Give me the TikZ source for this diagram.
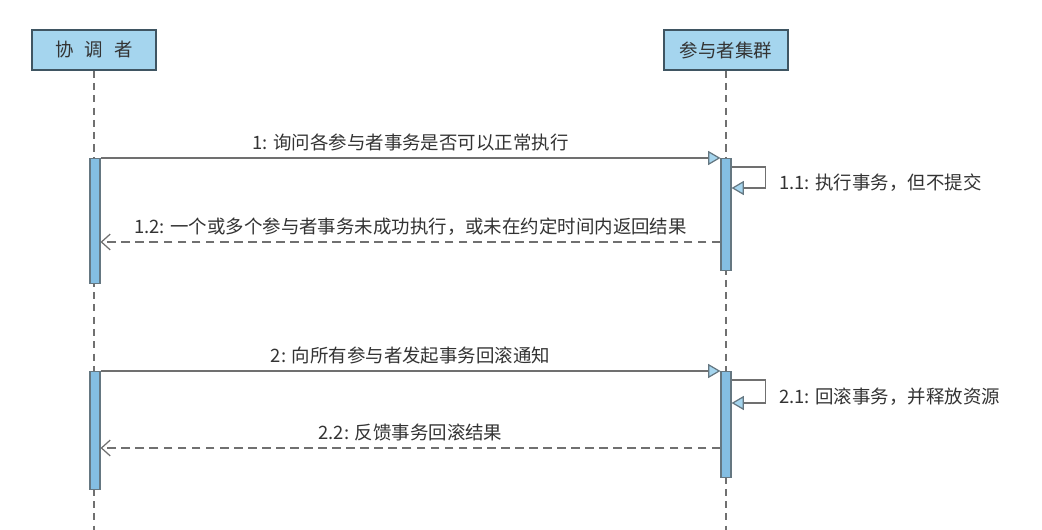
\documentclass[tikz,border=0pt]{standalone}
\usepackage{fontspec}
\usepackage{xcolor}
\usepackage{tikz}
\usetikzlibrary{arrows.meta}
\newfontfamily\cjk{Noto Sans CJK SC}
\definecolor{boxblue}{HTML}{A5D5EE}
\definecolor{barblue}{HTML}{84BEE2}
\definecolor{edgegray}{HTML}{3F5562}
\definecolor{linegray}{HTML}{707070}

\begin{document}
\begin{tikzpicture}[x=0.02cm, y=-0.02cm,
  every node/.style={font=\cjk\fontsize{10.5}{12}\selectfont, text=black!80},
  actor/.style={rectangle, draw=edgegray, fill=boxblue, line width=0.8pt, minimum width=2.48cm, minimum height=0.8cm},
  bar/.style={rectangle, draw=edgegray!80, fill=barblue, line width=0.6pt, minimum width=0.2cm, inner sep=0pt, anchor=north},
  lifeline/.style={draw=linegray, dash pattern=on 4pt off 3pt, line width=0.6pt},
  msg/.style={draw=linegray, line width=0.7pt, -{Triangle[length=7pt, width=8pt, color=edgegray!80, fill=boxblue]}},
  reply/.style={draw=linegray, line width=0.7pt, dash pattern=on 5pt off 3pt, -{Straight Barb[length=5pt, width=9pt]}}]
  \useasboundingbox (0,0) rectangle (1042,530);

  % Lifelines
  \node[actor] (coord) at (94,50) {协\hspace{0.6em}调\hspace{0.6em}者};
  \node[actor] (part) at (726,50) {参与者集群};
  \coordinate (coordEnd) at (94,530);
  \coordinate (partEnd) at (726,530);
  \draw[lifeline] (coord) -- (coordEnd);
  \draw[lifeline] (part) -- (partEnd);

  % Activation bars
  \node[bar, minimum height=2.5cm] (cA1) at (95,158) {};
  \node[bar, minimum height=2.24cm] (pA1) at (726,158) {};
  \node[bar, minimum height=2.36cm] (cA2) at (95,371) {};
  \node[bar, minimum height=2.12cm] (pA2) at (726,371) {};

  % Phase 1
  \draw[msg] (cA1.north east) -- (pA1.north west)
    node[midway, above] {1: 询问各参与者事务是否可以正常执行};
  \draw[msg] (pA1.east |- 0,167) -- ++(34,0) |- (pA1.east |- 0,188);
  \node[anchor=west] (l11) at (773,183) {1.1: 执行事务，但不提交};
  \draw[reply] (pA1.west |- 0,242) -- (cA1.east |- 0,242)
    node[midway, above] {1.2: 一个或多个参与者事务未成功执行，或未在约定时间内返回结果};

  % Phase 2
  \draw[msg] (cA2.north east) -- (pA2.north west)
    node[midway, above] {2: 向所有参与者发起事务回滚通知};
  \draw[msg] (pA2.east |- 0,380) -- ++(34,0) |- (pA2.east |- 0,403);
  \node[anchor=west] (l21) at (773,397) {2.1: 回滚事务，并释放资源};
  \draw[reply] (pA2.west |- 0,448) -- (cA2.east |- 0,448)
    node[midway, above] {2.2: 反馈事务回滚结果};
\end{tikzpicture}
\end{document}
